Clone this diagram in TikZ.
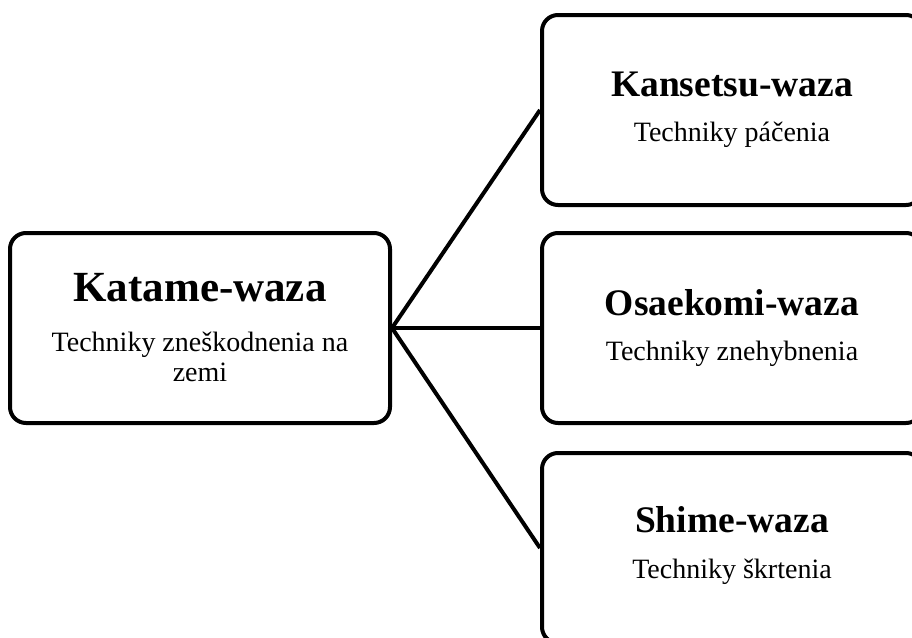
\documentclass[tikz,border=0pt]{standalone}
\usepackage{fontspec}
\setmainfont{Liberation Serif}
\begin{document}
\begin{tikzpicture}[x=1pt,y=-1pt,
  box/.style={draw, line width=4pt, rounded corners=16pt, minimum width=380pt, minimum height=190pt, inner sep=0pt, fill=white},
  ttl/.style={font=\bfseries\fontsize{37.5}{40}\selectfont, inner sep=0pt, anchor=base},
  bigttl/.style={font=\bfseries\fontsize{43}{46}\selectfont, inner sep=0pt, anchor=base},
  sub/.style={font=\fontsize{28}{30}\selectfont, inner sep=0pt, anchor=base, align=center},
  link/.style={line width=4pt}]
\useasboundingbox (0,0) rectangle (912,637);
\node[box] (main) at (200,328) {};
\node[box] (k) at (732,110) {};
\node[box] (o) at (732,328) {};
\node[box] (s) at (732,548) {};
\draw[link] (main.east) -- (k.west);
\draw[link] (main.east) -- (o.west);
\draw[link] (main.east) -- (s.west);
\node[bigttl] (mt) at ([yshift=-70pt]main.north) {Katame-waza};
\node[sub] (ms) at ([yshift=-150pt]main.north) {Techniky zneškodnenia na\\zemi};
\node[ttl] (kt) at ([yshift=-83pt]k.north) {Kansetsu-waza};
\node[sub] (ks) at ([yshift=-128pt]k.north) {Techniky páčenia};
\node[ttl] (ot) at ([yshift=-84pt]o.north) {Osaekomi-waza};
\node[sub] (os) at ([yshift=-129pt]o.north) {Techniky znehybnenia};
\node[ttl] (st) at ([yshift=-81pt]s.north) {Shime-waza};
\node[sub] (ss) at ([yshift=-127pt]s.north) {Techniky škrtenia};
\end{tikzpicture}
\end{document}
